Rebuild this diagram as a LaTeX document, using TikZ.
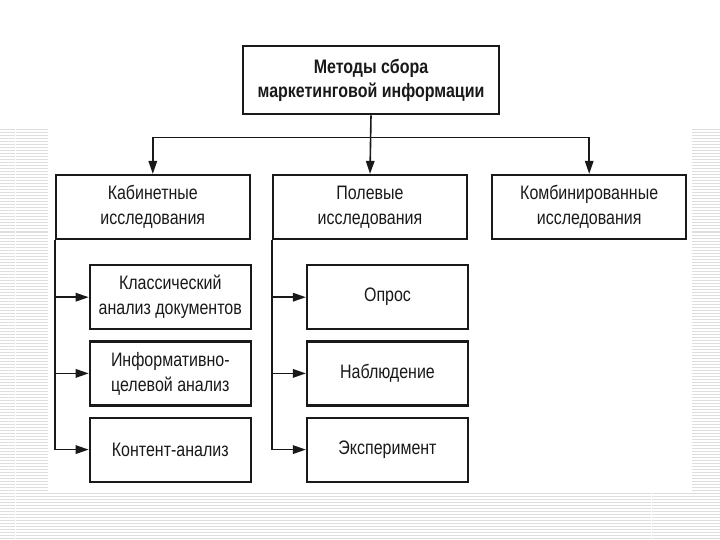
\documentclass[tikz,border=0pt]{standalone}
\usepackage{fontspec}
\setmainfont{Liberation Sans}[FakeStretch=0.82]
\usepackage{xcolor}
\usetikzlibrary{arrows.meta,positioning,calc}
\definecolor{mkink}{rgb}{0.10,0.10,0.10}
\definecolor{mkstripe}{rgb}{0.87,0.87,0.87}

\begin{document}
\begin{tikzpicture}[
  x=1pt, y=-1pt,
  font=\fontsize{19.5}{25}\selectfont,
  box/.style={draw=mkink, line width=2.2pt, align=center, text=mkink,
              inner sep=0pt, minimum width=194pt, minimum height=64pt},
  head/.style={box, line width=2.8pt, minimum width=256pt, minimum height=68pt,
               font=\fontsize{19.5}{24}\selectfont\bfseries},
  sub/.style={box, minimum width=161pt, minimum height=64pt},
  arr/.style={-{Triangle[length=13pt,width=8.5pt]}, mkink, line width=1.6pt},
  stripe/.style={mkstripe, line width=1pt}
]
\useasboundingbox (0,0) rectangle (720,540);

% striped slide frame
\foreach \y in {130,133,...,538} {
  \draw[stripe] (0,\y) -- (48,\y);
  \draw[stripe] (692,\y) -- (720,\y);
}
\foreach \y in {493,496,...,538}
  \draw[stripe] (0,\y) -- (720,\y);
\draw[white, line width=0.9pt] (15,129) -- (15,540);
\draw[white, line width=0.9pt] (651,491) -- (651,540);

% boxes
\node[head] (top) at (371,80) {Методы сбора\\маркетинговой информации};
\node[box] (pol) at (370,207) {Полевые\\исследования};
\node[box, left=21pt of pol] (kab) {Кабинетные\\исследования};
\node[box, right=23pt of pol] (kom) {Комбинированные\\исследования};

\node[sub, below right=24pt and 34pt of kab.south west] (k1) {Классический\\анализ документов};
\node[sub, below=10pt of k1] (k2) {Информативно-\\целевой анализ};
\node[sub, below=10pt of k2] (k3) {Контент-анализ};

\node[sub, below right=24pt and 34pt of pol.south west] (p1) {Опрос};
\node[sub, below=10pt of p1] (p2) {Наблюдение};
\node[sub, below=10pt of p2] (p3) {Эксперимент};

% connectors
\coordinate (bus) at ($(top.south)+(0,22)$);
\draw[arr] (top.south) -- (pol.north);
\draw[arr] (bus) -| (kab.north);
\draw[arr] (bus) -| (kom.north);

\foreach \n in {k1,k2,k3}
  \draw[arr] (kab.south west) |- (\n.west);
\foreach \n in {p1,p2,p3}
  \draw[arr] (pol.south west) |- (\n.west);

\end{tikzpicture}
\end{document}
